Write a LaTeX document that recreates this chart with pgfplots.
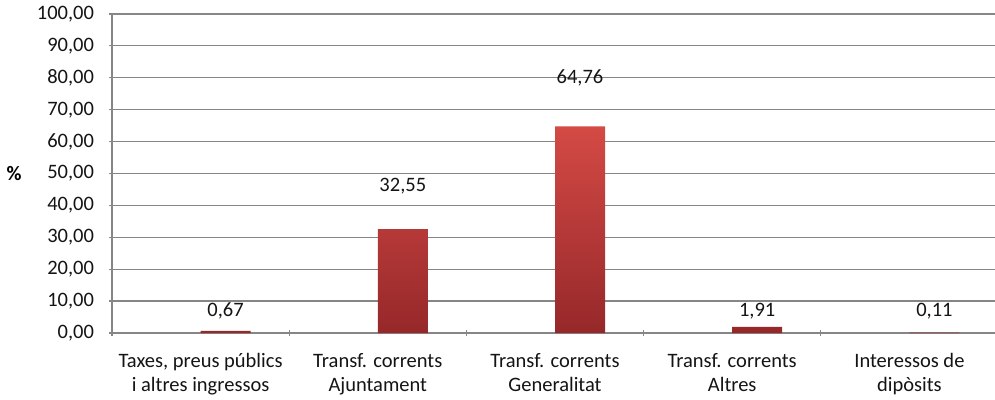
\documentclass[border=0pt]{standalone}
\usepackage{pgfplots}
\pgfplotsset{compat=1.18}
\usepackage{fontspec}
\setmainfont{Carlito}
\definecolor{gridgray}{RGB}{134,134,134}
\definecolor{bartop}{RGB}{212,74,69}
\definecolor{barbot}{RGB}{150,40,42}
\definecolor{txt}{RGB}{20,20,20}
\begin{document}
\fontsize{20.5bp}{24.5bp}\selectfont
\begin{tikzpicture}
\path[use as bounding box] (0,0) rectangle (995bp,400bp);
\begin{axis}[
    at={(112bp,67bp)}, anchor=south west,
    scale only axis,
    width=886bp, height=319bp,
    xmin=-0.5, xmax=4.5,
    ymin=0, ymax=100,
    ytick={0,10,...,100},
    xtick={-0.5,0.5,1.5,2.5,3.5,4.5},
    x tick label as interval=true,
    xticklabels={{Taxes, preus públics\\i altres ingressos},{Transf. corrents\\Ajuntament},{Transf. corrents\\Generalitat},{Transf. corrents\\Altres},{Interessos de\\dipòsits}},
    xticklabel style={align=center, text=txt, yshift=-10bp},
    yticklabel style={text=txt, xshift=-8bp},
    major tick length=6bp,
    tick style={draw=gridgray, line width=1.2bp},
    tick align=outside,
    tick pos=left,
    axis lines=left,
    axis line style={draw=gridgray, line width=1.2bp, -},
    ymajorgrids=true,
    grid style={draw=gridgray, line width=1.2bp},
    /pgf/number format/.cd, fixed, fixed zerofill, precision=2, use comma, assume math mode=true,
    /pgfplots/.cd,
    ylabel={\textbf{\%}},
    ylabel style={rotate=-90, at={(ticklabel cs:0.5)}, anchor=center, xshift=-16bp},
    clip=false,
]
\addplot[ybar, bar width=50bp, bar shift=25bp, draw=none, top color=bartop, bottom color=barbot]
coordinates {(0,0.67) (1,32.55) (2,64.76) (3,1.91) (4,0.11)};
\addplot[draw=none, mark=none, nodes near coords, point meta=explicit symbolic,
    nodes near coords align=center, every node near coord/.append style={text=txt, xshift=25bp}]
coordinates {(0,6.9)[0,67] (1,46.1)[32,55] (2,80.0)[64,76] (3,6.9)[1,91] (4,6.9)[0,11]};
\end{axis}
\end{tikzpicture}
\end{document}
